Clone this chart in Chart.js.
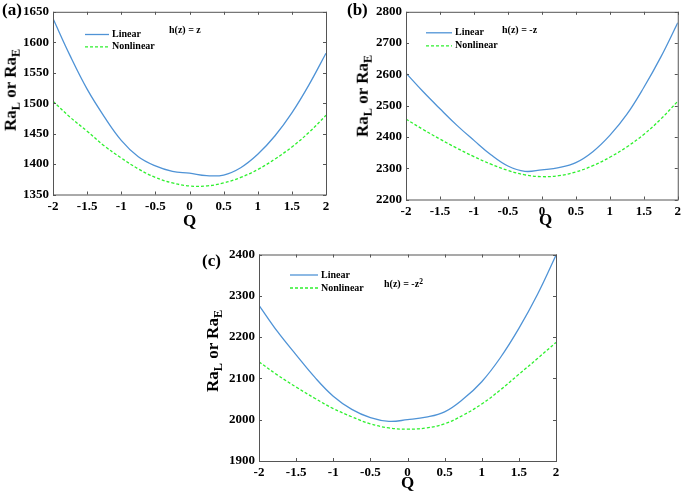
<!DOCTYPE html>
<html>
<head>
<meta charset="utf-8">
<script src="https://cdn.jsdelivr.net/npm/chart.js@4.4.0/dist/chart.umd.min.js"></script>
<style>
  body { margin: 0; background: #fff; }
  #wrap { position: relative; width: 685px; height: 497px; overflow: hidden; font-family: "Liberation Serif", "Times New Roman", serif; font-weight: bold; color: #000; }
  canvas { position: absolute; }
  .txt { position: absolute; white-space: nowrap; line-height: 1; }
  .ytitle { position: absolute; white-space: nowrap; font-size: 17px; line-height: 1; transform: translate(-50%, -50%) rotate(-90deg); }
  .ytitle sub { font-size: 0.72em; vertical-align: -0.35em; }
  .ann sup { font-size: 0.75em; vertical-align: 0.4em; }
</style>
</head>
<body>
<div id="wrap">
  <canvas id="ca" style="left:0;top:0" width="340" height="240"></canvas>
  <canvas id="cb" style="left:340px;top:0" width="345" height="240"></canvas>
  <canvas id="cc" style="left:190px;top:240px" width="400" height="257"></canvas>

  <div class="txt" style="left:2px;top:1px;font-size:17px">(a)</div>
  <div class="txt" style="left:347px;top:1px;font-size:17px">(b)</div>
  <div class="txt" style="left:202px;top:252px;font-size:17px">(c)</div>

  <div class="ytitle" style="left:12px;top:90px">Ra<sub>L</sub> or Ra<sub>E</sub></div>
  <div class="ytitle" style="left:364px;top:96px">Ra<sub>L</sub> or Ra<sub>E</sub></div>
  <div class="ytitle" style="left:214px;top:351px">Ra<sub>L</sub> or Ra<sub>E</sub></div>

  <div class="txt" style="left:183px;top:212px;font-size:17px">Q</div>
  <div class="txt" style="left:539px;top:211px;font-size:17px">Q</div>
  <div class="txt" style="left:401px;top:474px;font-size:17px">Q</div>

  <div class="txt ann" style="left:169px;top:25px;font-size:10px">h(z) = z</div>
  <div class="txt ann" style="left:502px;top:25px;font-size:10px">h(z) = -z</div>
  <div class="txt ann" style="left:384px;top:278px;font-size:10px">h(z) = -z<sup>2</sup></div>
</div>
<script>
const q = [-2, -1.75, -1.5, -1.25, -1, -0.75, -0.5, -0.25, 0, 0.25, 0.5, 0.75, 1, 1.25, 1.5, 1.75, 2];

const aLinear    = [1639, 1578, 1523, 1478, 1439, 1412, 1397, 1388, 1385, 1381, 1382, 1394, 1416, 1446, 1484, 1530, 1582];
const aNonlinear = [1503, 1477, 1454, 1430, 1410, 1392, 1378, 1369, 1364, 1364, 1369, 1378, 1391, 1408, 1428, 1452, 1480];

const bLinear    = [2604, 2545, 2490, 2437, 2389, 2343, 2307, 2290, 2295, 2302, 2318, 2353, 2405, 2472, 2558, 2655, 2765];
const bNonlinear = [2457, 2424, 2393, 2364, 2337, 2313, 2293, 2279, 2273, 2276, 2288, 2308, 2335, 2368, 2408, 2457, 2514];

const cLinear    = [2277, 2213, 2157, 2103, 2057, 2025, 2005, 1996, 2000, 2006, 2019, 2050, 2092, 2150, 2221, 2303, 2398];
const cNonlinear = [2140, 2108, 2079, 2052, 2027, 2007, 1990, 1980, 1977, 1980, 1990, 2011, 2038, 2072, 2110, 2148, 2187];

const xTicks  = [-2, -1.5, -1, -0.5, 0, 0.5, 1, 1.5, 2];
const aYTicks = [1350, 1400, 1450, 1500, 1550, 1600, 1650];
const bYTicks = [2200, 2300, 2400, 2500, 2600, 2700, 2800];
const cYTicks = [1900, 2000, 2100, 2200, 2300, 2400];

const seriesNames = ['Linear', 'Nonlinear'];

const FONT = '"Liberation Serif", "Times New Roman", serif';
const BLUE = '#4f93d6';
const GREEN = '#2ef02e';

// box around the plot + inward ticks on all four sides (matlab style)
const boxPlugin = {
    id: 'box',
    afterDraw(chart, args, opts) {
        const { ctx, chartArea: a, scales } = chart;
        ctx.save();
        ctx.strokeStyle = '#555';
        ctx.lineWidth = 1;
        ctx.strokeRect(a.left + 0.5, a.top + 0.5, a.right - a.left, a.bottom - a.top);
        ctx.beginPath();
        scales.x.ticks.forEach(t => {
            const x = Math.round(scales.x.getPixelForValue(t.value)) + 0.5;
            ctx.moveTo(x, a.bottom); ctx.lineTo(x, a.bottom - 3);
            ctx.moveTo(x, a.top); ctx.lineTo(x, a.top + 3);
        });
        scales.y.ticks.forEach(t => {
            const y = Math.round(scales.y.getPixelForValue(t.value)) + 0.5;
            ctx.moveTo(a.left, y); ctx.lineTo(a.left + 3, y);
            ctx.moveTo(a.right, y); ctx.lineTo(a.right - 3, y);
        });
        ctx.stroke();

        // legend inside the axes
        const lg = opts.legend;
        chart.data.datasets.forEach((ds, i) => {
            const y = a.top + lg.y + i * lg.gap;
            ctx.beginPath();
            ctx.strokeStyle = ds.borderColor;
            ctx.lineWidth = ds.borderWidth;
            ctx.setLineDash(ds.borderDash || []);
            ctx.moveTo(a.left + lg.x, y);
            ctx.lineTo(a.left + lg.x + lg.len, y);
            ctx.stroke();
            ctx.setLineDash([]);
            ctx.fillStyle = '#000';
            ctx.font = 'bold 10px ' + FONT;
            ctx.textBaseline = 'middle';
            ctx.fillText(ds.label, a.left + lg.x + lg.len + 3, y);
        });
        ctx.restore();
    }
};

function makePanel(id, lin, non, yTicks, box) {
    new Chart(document.getElementById(id), {
        type: 'line',
        data: {
            datasets: [
                {
                    label: seriesNames[0],
                    data: q.map((x, i) => ({ x, y: lin[i] })),
                    borderColor: BLUE,
                    borderWidth: 1.3,
                    pointRadius: 0,
                    tension: 0.4
                },
                {
                    label: seriesNames[1],
                    data: q.map((x, i) => ({ x, y: non[i] })),
                    borderColor: GREEN,
                    borderWidth: 1.3,
                    borderDash: [3, 2],
                    pointRadius: 0,
                    tension: 0.4
                }
            ]
        },
        options: {
            responsive: false,
            animation: false,
            layout: { padding: { top: box.top, right: box.right, left: 0, bottom: 0 } },
            plugins: {
                legend: { display: false },
                tooltip: { enabled: false },
                box: { legend: box.legend }
            },
            scales: {
                x: {
                    type: 'linear',
                    min: -2,
                    max: 2,
                    afterBuildTicks: s => { s.ticks = xTicks.map(v => ({ value: v })); },
                    afterFit: s => { s.height = box.xh; },
                    grid: { display: false, drawTicks: false },
                    border: { display: false },
                    ticks: {
                        padding: 4,
                        maxRotation: 0,
                        autoSkip: false,
                        color: '#000',
                        font: { family: FONT, size: 13, weight: 'bold' },
                        callback: v => String(v)
                    }
                },
                y: {
                    type: 'linear',
                    min: yTicks[0],
                    max: yTicks[yTicks.length - 1],
                    afterBuildTicks: s => { s.ticks = yTicks.map(v => ({ value: v })); },
                    afterFit: s => { s.width = box.yw; },
                    grid: { display: false, drawTicks: false },
                    border: { display: false },
                    ticks: {
                        padding: 4,
                        autoSkip: false,
                        color: '#000',
                        font: { family: FONT, size: 13, weight: 'bold' },
                        callback: v => String(v)
                    }
                }
            }
        },
        plugins: [boxPlugin]
    });
}

makePanel('ca', aLinear, aNonlinear, aYTicks,
    { top: 5, right: 14, xh: 45.5, yw: 53, legend: { x: 32, y: 22.7, gap: 12.3, len: 24 } });
makePanel('cb', bLinear, bNonlinear, bYTicks,
    { top: 6, right: 5, xh: 40.5, yw: 66, legend: { x: 20, y: 21, gap: 13, len: 26 } });
makePanel('cc', cLinear, cNonlinear, cYTicks,
    { top: 14.5, right: 34, xh: 36, yw: 69, legend: { x: 31, y: 20.5, gap: 13, len: 28 } });
</script>
</body>
</html>
